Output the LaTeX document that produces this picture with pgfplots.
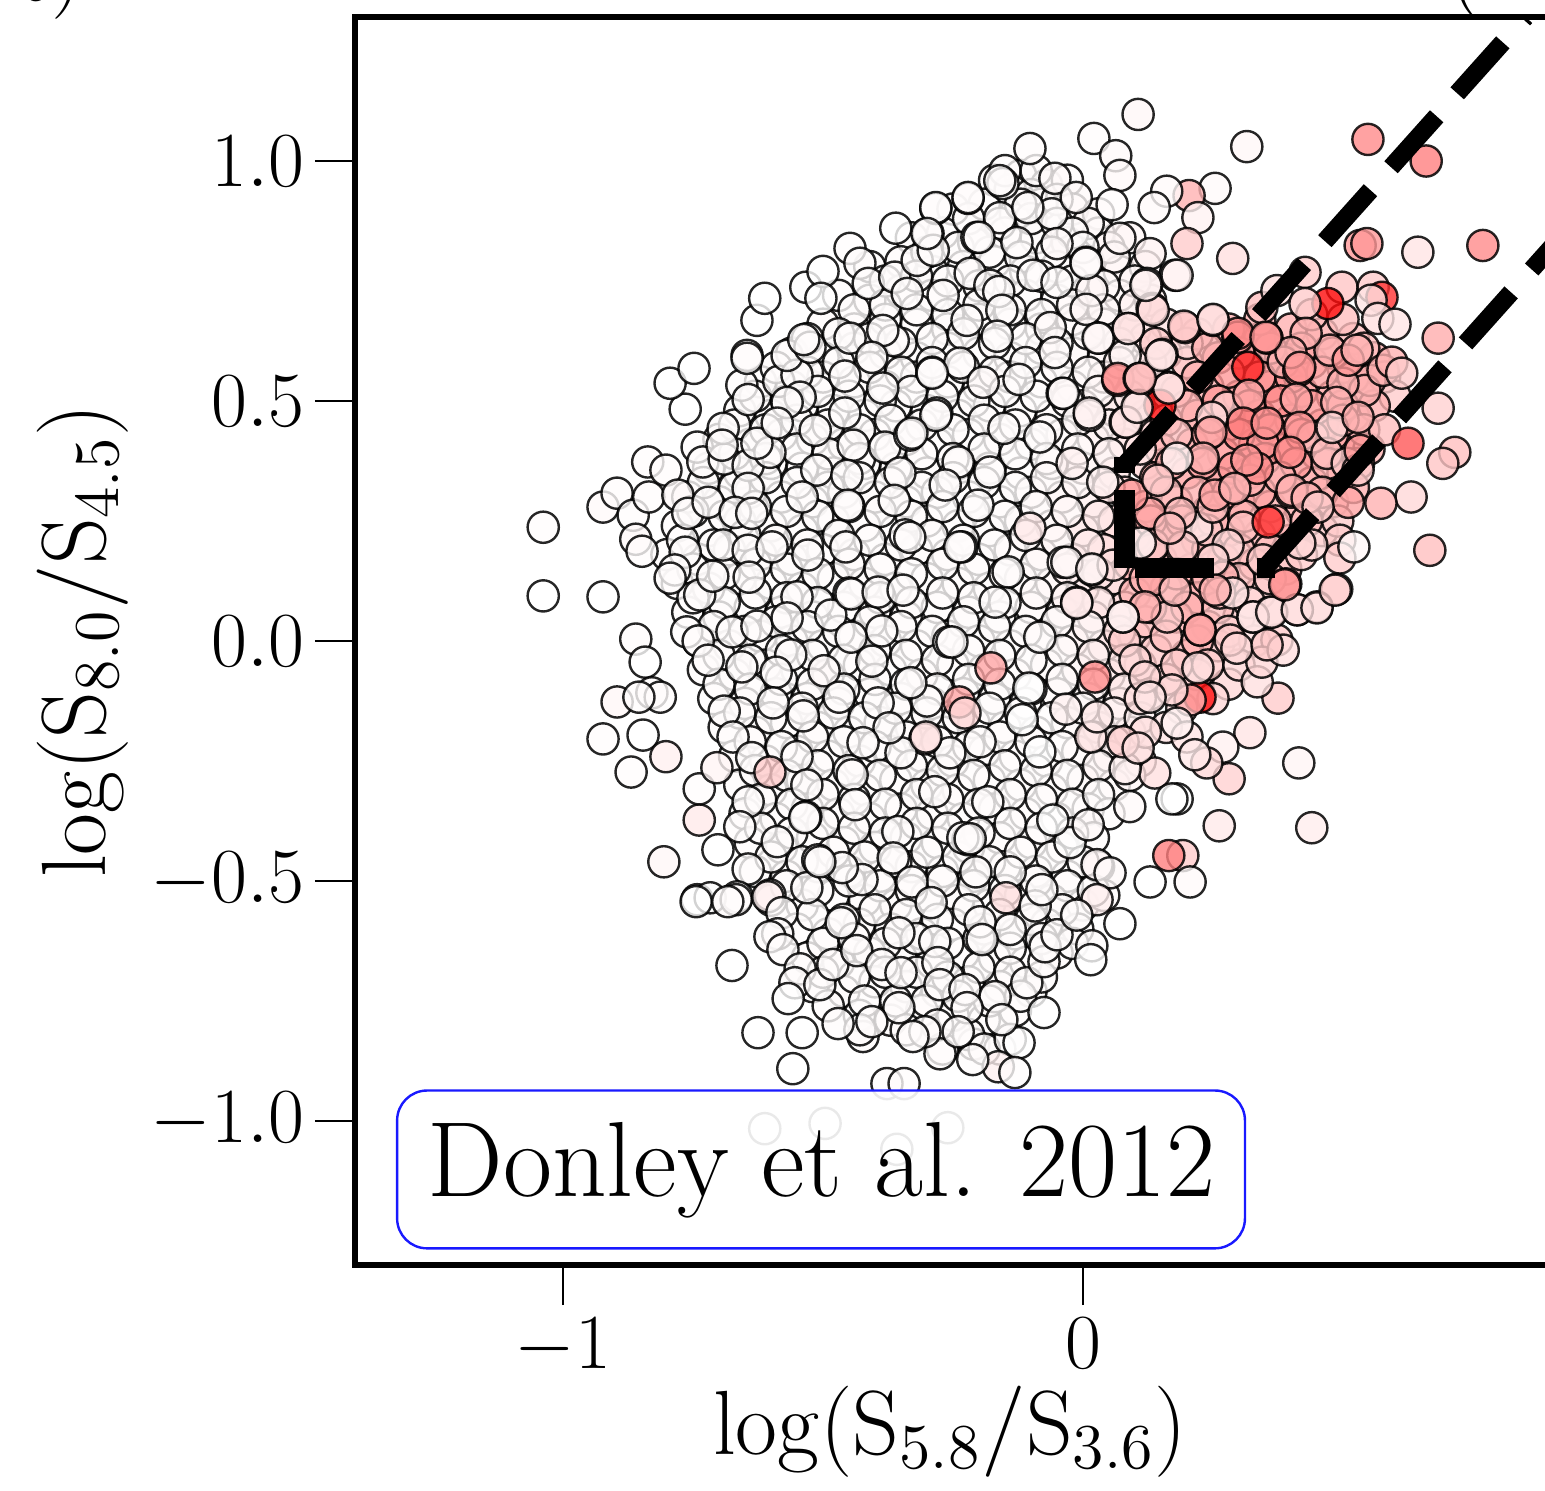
\RequirePackage{fix-cm}
\documentclass[border=0pt]{standalone}
\usepackage{pgfplots}
\pgfplotsset{compat=1.18}

\pgfplotsset{pts/.style={only marks,scatter,mark=*,mark size=3.9pt,point meta=explicit,
  scatter/use mapped color={draw=black,fill=mapped color},
  mark options={line width=0.6pt,fill opacity=0.8,draw opacity=0.85}}}
\newcommand{\lab}[1]{\fontsize{19.5}{24}\selectfont #1}
\newcommand{\axlab}[1]{\fontsize{22.8}{27}\selectfont #1}

\begin{document}
\begin{tikzpicture}[x=1pt,y=1pt]
\path[use as bounding box,clip] (-88.75,-56.5) rectangle (297.5,316.25);
\begin{axis}[
  scale only axis,width=312pt,height=312pt,
  xmin=-1.4,xmax=1.0,ymin=-1.3,ymax=1.3,
  clip mode=individual,
  axis on top,axis line style={line width=1.3pt},
  xtick={-1,0},ytick={-1,-0.5,0,0.5,1},
  yticklabels={$-1.0$,$-0.5$,$0.0$,$0.5$,$1.0$},
  xticklabels={$-1$,$0$},
  tick align=outside,tick pos=left,major tick length=10pt,
  every tick/.style={black,line width=0.5pt},
  tick label style={font=\lab},
  xticklabel style={yshift=0.3pt},
  yticklabel style={xshift=0.8pt},
  xlabel={$\log(\mathrm{S}_{5.8}/\mathrm{S}_{3.6})$},
  ylabel={$\log(\mathrm{S}_{8.0}/\mathrm{S}_{4.5})$},
  label style={font=\axlab},
  xlabel style={at={(axis description cs:0.4768,-0.152)},anchor=base},
  ylabel style={at={(axis description cs:-0.2003,0.5)},anchor=base},
  colormap={wr}{color(0)=(white) color(1)=(red)},
  point meta min=0,point meta max=1,
]
% under layer, mostly hidden
\addplot[pts] coordinates {
(-.17,.96)[.01] (-.12,.97)[.01] (-.07,.95)[.01] (-.03,.96)[.01]
(-.25,.90)[.01] (-.19,.91)[.01] (-.13,.89)[.01] (-.08,.91)[.01] (-.02,.90)[.01] (.03,.89)[.02]
(-.33,.84)[.01] (-.27,.85)[.01] (-.21,.83)[.01] (-.15,.85)[.01] (-.09,.84)[.01] (-.03,.83)[.01] (.03,.85)[.02] (.09,.84)[.03]
(-.41,.78)[.01] (-.35,.79)[.01] (-.29,.77)[.01] (-.23,.78)[.01] (-.17,.79)[.01] (-.11,.77)[.01] (-.05,.78)[.01] (.01,.79)[.02] (.07,.77)[.03] (.12,.78)[.04]
(-.47,.72)[.01] (-.41,.71)[.01] (-.35,.73)[.01] (-.29,.72)[.01] (-.23,.71)[.01] (-.17,.73)[.01] (-.11,.72)[.01] (-.05,.71)[.01] (.01,.73)[.02] (.07,.72)[.03] (.13,.71)[.05]
(-.50,.66)[.01] (-.44,.65)[.01] (-.38,.67)[.01] (-.32,.66)[.01] (-.26,.65)[.01] (-.20,.67)[.01] (-.14,.66)[.01] (-.08,.65)[.01] (-.02,.67)[.02] (.04,.66)[.03] (.10,.65)[.05] (.16,.66)[.1]
(-.56,.60)[.01] (-.50,.59)[.01] (-.44,.61)[.01] (-.38,.60)[.01] (-.32,.59)[.01] (-.26,.61)[.01] (-.20,.60)[.01] (-.14,.59)[.01] (-.08,.61)[.01] (-.02,.60)[.02] (.04,.59)[.03] (.10,.61)[.06] (.16,.60)[.08]
(-.62,.54)[.01] (-.56,.53)[.01] (-.50,.55)[.01] (-.44,.54)[.01] (-.38,.53)[.01] (-.32,.55)[.01] (-.26,.54)[.01] (-.20,.53)[.01] (-.14,.55)[.01] (-.08,.54)[.01] (-.02,.53)[.02] (.04,.55)[.05] (.10,.54)[.08] (.16,.53)[.1]
(-.66,.48)[.01] (-.60,.47)[.01] (-.54,.49)[.01] (-.48,.48)[.01] (-.42,.47)[.01] (-.36,.49)[.01] (-.30,.48)[.01] (-.24,.47)[.01] (-.18,.49)[.01] (-.12,.48)[.01] (-.06,.47)[.02] (.00,.49)[.03] (.06,.48)[.08] (.12,.47)[.12]
(-.70,.42)[.01] (-.64,.41)[.01] (-.58,.43)[.01] (-.52,.42)[.01] (-.46,.41)[.01] (-.40,.43)[.01] (-.34,.42)[.01] (-.28,.41)[.01] (-.22,.43)[.01] (-.16,.42)[.01] (-.10,.41)[.01] (-.04,.43)[.02] (.02,.42)[.05] (.08,.41)[.1] (.14,.43)[.15]
(-.72,.36)[.01] (-.66,.35)[.01] (-.60,.37)[.01] (-.54,.36)[.01] (-.48,.35)[.01] (-.42,.37)[.01] (-.36,.36)[.01] (-.30,.35)[.01] (-.24,.37)[.01] (-.18,.36)[.01] (-.12,.35)[.01] (-.06,.37)[.02] (.00,.36)[.04] (.06,.35)[.1] (.12,.37)[.15]
(-.76,.30)[.01] (-.70,.29)[.01] (-.64,.31)[.01] (-.58,.30)[.01] (-.52,.29)[.01] (-.46,.31)[.01] (-.40,.30)[.01] (-.34,.29)[.01] (-.28,.31)[.01] (-.22,.30)[.01] (-.16,.29)[.01] (-.10,.31)[.02] (-.04,.30)[.03] (.02,.29)[.06] (.08,.31)[.15]
(-.78,.24)[.01] (-.72,.23)[.01] (-.66,.25)[.01] (-.60,.24)[.01] (-.54,.23)[.01] (-.48,.25)[.01] (-.42,.24)[.01] (-.36,.23)[.01] (-.30,.25)[.01] (-.24,.24)[.01] (-.18,.23)[.01] (-.12,.25)[.02] (-.06,.24)[.03] (.00,.23)[.08] (.06,.25)[.15]
(-.80,.18)[.01] (-.74,.17)[.01] (-.68,.19)[.01] (-.62,.18)[.01] (-.56,.17)[.01] (-.50,.19)[.01] (-.44,.18)[.01] (-.38,.17)[.01] (-.32,.19)[.01] (-.26,.18)[.01] (-.20,.17)[.01] (-.14,.19)[.02] (-.08,.18)[.03] (-.02,.17)[.08] (.04,.19)[.15]
(-.78,.12)[.01] (-.72,.11)[.01] (-.66,.13)[.01] (-.60,.12)[.01] (-.54,.11)[.01] (-.48,.13)[.01] (-.42,.12)[.01] (-.36,.11)[.01] (-.30,.13)[.01] (-.24,.12)[.01] (-.18,.11)[.01] (-.12,.13)[.02] (-.06,.12)[.03] (.00,.11)[.08] (.06,.13)[.15]
(-.76,.06)[.01] (-.70,.05)[.01] (-.64,.07)[.01] (-.58,.06)[.01] (-.52,.05)[.01] (-.46,.07)[.01] (-.40,.06)[.01] (-.34,.05)[.01] (-.28,.07)[.01] (-.22,.06)[.01] (-.16,.05)[.01] (-.10,.07)[.02] (-.04,.06)[.03] (.02,.05)[.08] (.08,.07)[.15]
(-.74,.00)[.01] (-.68,-.01)[.01] (-.62,.01)[.01] (-.56,.00)[.01] (-.50,-.01)[.01] (-.44,.01)[.01] (-.38,.00)[.01] (-.32,-.01)[.01] (-.26,.01)[.01] (-.20,.00)[.01] (-.14,-.01)[.01] (-.08,.01)[.02] (-.02,.00)[.04] (.04,-.01)[.1] (.10,.01)[.15]
(-.73,-.06)[.01] (-.67,-.07)[.01] (-.61,-.05)[.01] (-.55,-.06)[.01] (-.49,-.07)[.01] (-.43,-.05)[.01] (-.37,-.06)[.01] (-.31,-.07)[.01] (-.25,-.05)[.01] (-.19,-.06)[.01] (-.13,-.07)[.01] (-.07,-.05)[.02] (-.01,-.06)[.03] (.05,-.07)[.08] (.11,-.05)[.12]
(-.71,-.12)[.01] (-.65,-.13)[.01] (-.59,-.11)[.01] (-.53,-.12)[.01] (-.47,-.13)[.01] (-.41,-.11)[.01] (-.35,-.12)[.01] (-.29,-.13)[.01] (-.23,-.11)[.01] (-.17,-.12)[.01] (-.11,-.13)[.01] (-.05,-.11)[.02] (.01,-.12)[.03] (.07,-.13)[.06] (.13,-.11)[.08]
(-.69,-.18)[.01] (-.63,-.19)[.01] (-.57,-.17)[.01] (-.51,-.18)[.01] (-.45,-.19)[.01] (-.39,-.17)[.01] (-.33,-.18)[.01] (-.27,-.19)[.01] (-.21,-.17)[.01] (-.15,-.18)[.01] (-.09,-.19)[.01] (-.03,-.17)[.02] (.03,-.18)[.03] (.09,-.19)[.08]
(-.67,-.24)[.01] (-.61,-.25)[.01] (-.55,-.23)[.01] (-.49,-.24)[.01] (-.43,-.25)[.01] (-.37,-.23)[.01] (-.31,-.24)[.01] (-.25,-.25)[.01] (-.19,-.23)[.01] (-.13,-.24)[.01] (-.07,-.25)[.01] (-.01,-.23)[.02] (.05,-.24)[.05] (.11,-.25)[.06]
(-.66,-.30)[.01] (-.60,-.31)[.01] (-.54,-.29)[.01] (-.48,-.30)[.01] (-.42,-.31)[.01] (-.36,-.29)[.01] (-.30,-.30)[.01] (-.24,-.31)[.01] (-.18,-.29)[.01] (-.12,-.30)[.01] (-.06,-.31)[.01] (.00,-.29)[.02] (.06,-.30)[.02]
(-.65,-.36)[.01] (-.59,-.37)[.01] (-.53,-.35)[.01] (-.47,-.36)[.01] (-.41,-.37)[.01] (-.35,-.35)[.01] (-.29,-.36)[.01] (-.23,-.37)[.01] (-.17,-.35)[.01] (-.11,-.36)[.01] (-.05,-.37)[.01] (.01,-.35)[.01] (.05,-.36)[.01]
(-.64,-.42)[.01] (-.58,-.43)[.01] (-.52,-.41)[.01] (-.46,-.42)[.01] (-.40,-.43)[.01] (-.34,-.41)[.01] (-.28,-.42)[.01] (-.22,-.43)[.01] (-.16,-.41)[.01] (-.10,-.42)[.01] (-.04,-.43)[.01] (.02,-.41)[.01]
(-.63,-.48)[.01] (-.57,-.49)[.01] (-.51,-.47)[.01] (-.45,-.48)[.01] (-.39,-.49)[.01] (-.33,-.47)[.01] (-.27,-.48)[.01] (-.21,-.49)[.01] (-.15,-.47)[.01] (-.09,-.48)[.01] (-.03,-.49)[.01] (.03,-.47)[.01]
(-.60,-.54)[.01] (-.54,-.55)[.01] (-.48,-.53)[.01] (-.42,-.54)[.01] (-.36,-.55)[.01] (-.30,-.53)[.01] (-.24,-.54)[.01] (-.18,-.55)[.01] (-.12,-.53)[.01] (-.06,-.54)[.01] (.00,-.55)[.01] (.04,-.53)[.01]
(-.55,-.60)[.01] (-.49,-.61)[.01] (-.43,-.59)[.01] (-.37,-.60)[.01] (-.31,-.61)[.01] (-.25,-.59)[.01] (-.19,-.60)[.01] (-.13,-.61)[.01] (-.07,-.59)[.01] (-.01,-.60)[.01]
(-.53,-.66)[.01] (-.47,-.67)[.01] (-.41,-.65)[.01] (-.35,-.66)[.01] (-.29,-.67)[.01] (-.23,-.65)[.01] (-.17,-.66)[.01] (-.11,-.67)[.01] (-.05,-.65)[.01]
(-.52,-.72)[.01] (-.46,-.73)[.01] (-.40,-.71)[.01] (-.34,-.72)[.01] (-.28,-.73)[.01] (-.22,-.71)[.01] (-.16,-.72)[.01] (-.10,-.73)[.01]
(-.43,-.78)[.01] (-.37,-.79)[.01] (-.31,-.77)[.01] (-.25,-.78)[.01] (-.19,-.79)[.01] (-.13,-.77)[.01]
(-.27,-.85)[.01] (-.21,-.84)[.01] (-.16,-.85)[.01]
% pink core
(.22,.64)[.2] (.28,.65)[.3] (.34,.63)[.35] (.40,.65)[.3] (.46,.64)[.3] (.52,.63)[.25]
(.20,.58)[.25] (.26,.59)[.35] (.32,.57)[.4] (.38,.59)[.4] (.44,.58)[.35] (.50,.57)[.35] (.56,.59)[.3]
(.18,.52)[.25] (.24,.53)[.3] (.30,.51)[.4] (.36,.53)[.45] (.42,.52)[.4] (.48,.51)[.35] (.54,.53)[.3]
(.16,.46)[.25] (.22,.47)[.35] (.28,.45)[.45] (.34,.47)[.45] (.40,.46)[.4] (.46,.45)[.35] (.52,.47)[.3]
(.15,.40)[.3] (.21,.41)[.35] (.27,.39)[.4] (.33,.41)[.45] (.39,.40)[.4] (.45,.39)[.35] (.51,.41)[.3] (.55,.40)[.3]
(.14,.34)[.3] (.20,.35)[.35] (.26,.33)[.4] (.32,.35)[.4] (.38,.34)[.35] (.44,.33)[.35] (.50,.35)[.3]
(.12,.28)[.3] (.18,.29)[.3] (.24,.27)[.35] (.30,.29)[.35] (.36,.28)[.3] (.42,.27)[.3] (.48,.29)[.25]
(.10,.22)[.35] (.16,.23)[.3] (.22,.21)[.3] (.28,.23)[.3] (.34,.22)[.3] (.40,.21)[.25] (.46,.23)[.2]
(.09,.16)[.3] (.15,.17)[.3] (.21,.15)[.3] (.27,.17)[.3] (.33,.16)[.25] (.39,.15)[.25]
(.10,.10)[.3] (.16,.11)[.3] (.22,.09)[.35] (.28,.11)[.3] (.34,.10)[.2]
(.12,.04)[.25] (.18,.05)[.3] (.24,.03)[.3] (.30,.05)[.2]
(.14,-.02)[.2] (.20,-.03)[.25] (.26,-.01)[.2]
(.16,-.08)[.2] (.22,-.07)[.2] (.28,-.09)[.15]
};
% middle layer, circles between the others
\addplot[pts] coordinates {
(-.14,.94)[.01] (-.10,.93)[.01] (-.05,.92)[.01] (-.15,.98)[.01] (-.09,.98)[.01]
(-.22,.88)[.01] (-.16,.87)[.01] (-.10,.88)[.01] (-.05,.87)[.01] (.01,.87)[.02] (.05,.82)[.03] (-.02,.85)[.01] (-.12,.91)[.01] (-.06,.89)[.01]
(-.30,.81)[.01] (-.24,.82)[.01] (-.18,.81)[.01] (-.12,.80)[.01] (-.06,.81)[.01] (.00,.82)[.01] (.06,.80)[.03] (.10,.75)[.03]
(-.38,.75)[.01] (-.32,.76)[.01] (-.26,.75)[.01] (-.20,.74)[.01] (-.14,.75)[.01] (-.08,.76)[.01] (-.02,.75)[.01] (.04,.74)[.02] (.10,.70)[.05]
(-.44,.69)[.01] (-.38,.70)[.01] (-.32,.69)[.01] (-.26,.68)[.01] (-.20,.70)[.01] (-.14,.69)[.01] (-.08,.68)[.01] (-.02,.70)[.02] (.04,.69)[.03] (.12,.63)[.1] (.20,.62)[.15]
(-.53,.63)[.01] (-.47,.64)[.01] (-.41,.63)[.01] (-.35,.62)[.01] (-.29,.63)[.01] (-.23,.64)[.01] (-.17,.62)[.01] (-.11,.63)[.01] (-.05,.62)[.01] (.01,.64)[.02] (.07,.62)[.05] (.13,.58)[.1]
(-.59,.57)[.01] (-.53,.56)[.01] (-.47,.58)[.01] (-.41,.57)[.01] (-.35,.56)[.01] (-.29,.58)[.01] (-.23,.57)[.01] (-.17,.56)[.01] (-.11,.58)[.01] (-.05,.57)[.02] (.01,.56)[.02] (.07,.58)[.05]
(-.63,.51)[.01] (-.57,.50)[.01] (-.51,.52)[.01] (-.45,.51)[.01] (-.39,.50)[.01] (-.33,.52)[.01] (-.27,.51)[.01] (-.21,.50)[.01] (-.15,.52)[.01] (-.09,.51)[.01] (-.03,.50)[.02] (.03,.52)[.03] (.09,.51)[.08]
(-.67,.45)[.01] (-.61,.44)[.01] (-.55,.46)[.01] (-.49,.45)[.01] (-.43,.44)[.01] (-.37,.46)[.01] (-.31,.45)[.01] (-.25,.44)[.01] (-.19,.46)[.01] (-.13,.45)[.01] (-.07,.44)[.01] (-.01,.46)[.02] (.05,.45)[.05]
(-.67,.39)[.01] (-.61,.38)[.01] (-.55,.40)[.01] (-.49,.39)[.01] (-.43,.38)[.01] (-.37,.40)[.01] (-.31,.39)[.01] (-.25,.38)[.01] (-.19,.40)[.01] (-.13,.39)[.01] (-.07,.38)[.01] (-.01,.40)[.02] (.05,.39)[.05] (.11,.40)[.1]
(-.73,.33)[.01] (-.67,.32)[.01] (-.61,.34)[.01] (-.55,.33)[.01] (-.49,.32)[.01] (-.43,.34)[.01] (-.37,.33)[.01] (-.31,.32)[.01] (-.25,.34)[.01] (-.19,.33)[.01] (-.13,.32)[.01] (-.07,.34)[.02] (-.01,.33)[.03] (.05,.32)[.1]
(-.75,.27)[.01] (-.69,.26)[.01] (-.63,.28)[.01] (-.57,.27)[.01] (-.51,.26)[.01] (-.45,.28)[.01] (-.39,.27)[.01] (-.33,.26)[.01] (-.27,.28)[.01] (-.21,.27)[.01] (-.15,.26)[.01] (-.09,.28)[.02] (-.03,.27)[.03] (.03,.26)[.08]
(-.77,.21)[.01] (-.71,.20)[.01] (-.65,.22)[.01] (-.59,.21)[.01] (-.53,.20)[.01] (-.47,.22)[.01] (-.41,.21)[.01] (-.35,.20)[.01] (-.29,.22)[.01] (-.23,.21)[.01] (-.17,.20)[.01] (-.11,.22)[.02] (-.05,.21)[.03] (.01,.20)[.08]
(-.75,.15)[.01] (-.69,.14)[.01] (-.63,.16)[.01] (-.57,.15)[.01] (-.51,.14)[.01] (-.45,.16)[.01] (-.39,.15)[.01] (-.33,.14)[.01] (-.27,.16)[.01] (-.21,.15)[.01] (-.15,.14)[.01] (-.09,.16)[.02] (-.03,.15)[.05] (.03,.14)[.1]
(-.75,.09)[.01] (-.69,.08)[.01] (-.63,.10)[.01] (-.57,.09)[.01] (-.51,.08)[.01] (-.45,.10)[.01] (-.39,.09)[.01] (-.33,.08)[.01] (-.27,.10)[.01] (-.21,.09)[.01] (-.15,.08)[.01] (-.09,.10)[.02] (-.03,.09)[.04] (.03,.08)[.1]
(-.71,.03)[.01] (-.65,.02)[.01] (-.59,.04)[.01] (-.53,.03)[.01] (-.47,.02)[.01] (-.41,.04)[.01] (-.35,.03)[.01] (-.29,.02)[.01] (-.23,.04)[.01] (-.17,.03)[.01] (-.11,.02)[.01] (-.05,.04)[.02] (.01,.03)[.04] (.07,.02)[.12]
(-.70,-.03)[.01] (-.64,-.04)[.01] (-.58,-.02)[.01] (-.52,-.03)[.01] (-.46,-.04)[.01] (-.40,-.02)[.01] (-.34,-.03)[.01] (-.28,-.04)[.01] (-.22,-.02)[.01] (-.16,-.03)[.01] (-.10,-.04)[.01] (-.04,-.02)[.02] (.02,-.03)[.06] (.08,-.04)[.1]
(-.70,-.09)[.01] (-.64,-.10)[.01] (-.58,-.08)[.01] (-.52,-.09)[.01] (-.46,-.10)[.01] (-.40,-.08)[.01] (-.34,-.09)[.01] (-.28,-.10)[.01] (-.22,-.08)[.01] (-.16,-.09)[.01] (-.10,-.10)[.01] (-.04,-.08)[.02] (.02,-.09)[.04] (.08,-.10)[.08]
(-.66,-.15)[.01] (-.60,-.16)[.01] (-.54,-.14)[.01] (-.48,-.15)[.01] (-.42,-.16)[.01] (-.36,-.14)[.01] (-.30,-.15)[.01] (-.24,-.16)[.01] (-.18,-.14)[.01] (-.12,-.15)[.01] (-.06,-.16)[.01] (.00,-.14)[.02] (.06,-.15)[.05] (.11,-.16)[.06]
(-.64,-.21)[.01] (-.58,-.22)[.01] (-.52,-.20)[.01] (-.46,-.21)[.01] (-.40,-.22)[.01] (-.34,-.20)[.01] (-.28,-.21)[.01] (-.22,-.22)[.01] (-.16,-.20)[.01] (-.10,-.21)[.01] (-.04,-.22)[.01] (.02,-.20)[.03] (.06,-.21)[.05]
(-.63,-.27)[.01] (-.57,-.28)[.01] (-.51,-.26)[.01] (-.45,-.27)[.01] (-.39,-.28)[.01] (-.33,-.26)[.01] (-.27,-.27)[.01] (-.21,-.28)[.01] (-.15,-.26)[.01] (-.09,-.27)[.01] (-.03,-.28)[.01] (.03,-.26)[.03] (.09,-.28)[.03]
(-.62,-.33)[.01] (-.56,-.34)[.01] (-.50,-.32)[.01] (-.44,-.33)[.01] (-.38,-.34)[.01] (-.32,-.32)[.01] (-.26,-.33)[.01] (-.20,-.34)[.01] (-.14,-.32)[.01] (-.08,-.33)[.01] (-.02,-.34)[.01] (.03,-.32)[.01]
(-.62,-.39)[.01] (-.56,-.40)[.01] (-.50,-.38)[.01] (-.44,-.39)[.01] (-.38,-.40)[.01] (-.32,-.38)[.01] (-.26,-.39)[.01] (-.20,-.40)[.01] (-.14,-.38)[.01] (-.08,-.39)[.01] (-.02,-.40)[.01]
(-.60,-.45)[.01] (-.54,-.46)[.01] (-.48,-.44)[.01] (-.42,-.45)[.01] (-.36,-.46)[.01] (-.30,-.44)[.01] (-.24,-.45)[.01] (-.18,-.46)[.01] (-.12,-.44)[.01] (-.06,-.45)[.01] (.00,-.46)[.01]
(-.57,-.51)[.01] (-.51,-.52)[.01] (-.45,-.50)[.01] (-.39,-.51)[.01] (-.33,-.52)[.01] (-.27,-.50)[.01] (-.21,-.51)[.01] (-.15,-.52)[.01] (-.09,-.50)[.01] (-.03,-.51)[.01] (.02,-.52)[.01]
(-.52,-.57)[.01] (-.46,-.58)[.01] (-.40,-.56)[.01] (-.34,-.57)[.01] (-.28,-.58)[.01] (-.22,-.56)[.01] (-.16,-.57)[.01] (-.10,-.58)[.01] (-.04,-.56)[.01]
(-.50,-.63)[.01] (-.44,-.62)[.01] (-.38,-.63)[.01] (-.32,-.62)[.01] (-.26,-.63)[.01] (-.20,-.62)[.01] (-.14,-.64)[.01] (-.08,-.62)[.01] (-.02,-.63)[.01]
(-.50,-.69)[.01] (-.44,-.70)[.01] (-.38,-.69)[.01] (-.32,-.69)[.01] (-.26,-.70)[.01] (-.20,-.68)[.01] (-.14,-.69)[.01] (-.08,-.70)[.01]
(-.49,-.76)[.01] (-.42,-.75)[.01] (-.36,-.75)[.01] (-.30,-.75)[.01] (-.24,-.74)[.01] (-.18,-.75)[.01] (-.12,-.74)[.01]
(-.34,-.81)[.01] (-.28,-.80)[.01] (-.22,-.82)[.01] (-.19,-.85)[.01] (-.14,-.83)[.01]
% pink, second pass
(.14,.62)[.2] (.24,.61)[.3] (.30,.60)[.35] (.36,.61)[.3] (.42,.61)[.35] (.48,.60)[.3] (.54,.61)[.25] (.34,.67)[.3] (.44,.68)[.25] (.50,.67)[.25]
(.22,.55)[.3] (.28,.56)[.4] (.34,.55)[.4] (.40,.55)[.4] (.46,.56)[.35] (.52,.55)[.3] (.58,.55)[.25] (.60,.51)[.2]
(.20,.49)[.3] (.26,.50)[.4] (.32,.49)[.4] (.38,.50)[.45] (.44,.49)[.4] (.50,.49)[.35] (.56,.49)[.3]
(.18,.43)[.25] (.24,.43)[.35] (.30,.43)[.45] (.36,.44)[.45] (.42,.43)[.4] (.48,.43)[.35] (.54,.44)[.3] (.58,.44)[.25]
(.17,.37)[.3] (.23,.37)[.35] (.29,.36)[.4] (.35,.38)[.45] (.41,.37)[.4] (.47,.37)[.3] (.53,.37)[.3]
(.16,.31)[.25] (.22,.31)[.3] (.28,.31)[.35] (.34,.31)[.35] (.40,.31)[.3] (.46,.31)[.3] (.52,.32)[.3]
(.13,.25)[.3] (.19,.25)[.3] (.25,.25)[.3] (.31,.26)[.3] (.37,.25)[.3] (.43,.25)[.25] (.49,.25)[.2]
(.13,.19)[.3] (.19,.19)[.25] (.24,.19)[.3] (.30,.19)[.25] (.36,.19)[.25] (.42,.18)[.2]
(.12,.13)[.3] (.18,.14)[.3] (.24,.13)[.3] (.30,.13)[.25] (.36,.13)[.2]
(.13,.07)[.3] (.20,.07)[.3] (.26,.07)[.25] (.32,.08)[.15]
(.08,.00)[.2] (.16,.01)[.25] (.22,.00)[.3] (.28,.02)[.2] (.33,.00)[.12]
(.10,-.04)[.15] (.18,-.05)[.2] (.24,-.05)[.2] (.30,-.05)[.15]
(.11,-.12)[.12] (.19,-.14)[.12] (.25,-.12)[.15] (.16,-.18)[.1] (.12,-.19)[.12] (.20,-.20)[.1]
};
% upper layer, read circle by circle
\addplot[pts] coordinates {
(-1.038,.237)[.01] (-1.038,.094)[0] (-.923,.092)[0] (-.923,.279)[.02] (-.896,.308)[.01] (-.865,.262)[.01] (-.835,.300)[.01]
(-.837,.373)[.01] (-.802,.356)[.01] (-.779,.304)[.02] (-.760,.266)[.01] (-.721,.289)[.01] (-.742,.404)[.01] (-.731,.373)[.01]
(-.690,.379)[.01] (-.692,.443)[.01] (-.694,.408)[.01] (-.644,.366)[.01] (-.602,.393)[.01] (-.627,.412)[.01] (-.644,.318)[.01]
(-.669,.268)[.01] (-.637,.266)[.01] (-.765,.483)[0] (-.794,.537)[0] (-.748,.568)[0] (-.656,.533)[.01] (-.644,.503)[.01]
(-.585,.541)[.01] (-.550,.554)[.01] (-.544,.508)[.01] (-.569,.497)[.01] (-.646,.595)[.01] (-.646,.589)[.01] (-.569,.595)[.01]
(-.525,.612)[.01] (-.537,.628)[.01] (-.627,.668)[0] (-.612,.714)[0] (-.533,.737)[0] (-.500,.770)[0] (-.504,.714)[0]
(-.448,.818)[.01] (-.429,.787)[.01] (-.413,.745)[.01] (-.360,.860)[0] (-.298,.849)[.01] (-.283,.901)[0] (-.221,.922)[.01]
(-.362,.758)[.01] (-.319,.793)[.01] (-.269,.720)[.01] (-.338,.724)[.01] (-.204,.841)[.01] (-.217,.766)[.01] (-.179,.741)[.01]
(-.160,.882)[.01] (-.288,.814)[.01] (-.154,.953)[.01] (-.223,.668)[.01] (-.365,.626)[.01] (-.385,.647)[.01] (-.448,.631)[.01]
(-.406,.591)[.01] (-.458,.552)[.01] (-.290,.560)[.01] (-.237,.579)[.01] (-.192,.539)[.02] (-.385,.527)[.01] (-.458,.475)[.01]
(-.442,.408)[.01] (-.381,.404)[.01] (-.515,.439)[.01] (-.588,.454)[.01] (-.333,.429)[.01] (-.281,.475)[.01] (-.240,.373)[.01]
(-.512,.356)[.01] (-.454,.345)[.01] (-.352,.350)[.01] (-.540,.300)[.01] (-.452,.283)[.01] (-.363,.293)[.01] (-.265,.325)[.01]
(-.202,.283)[.01] (-.179,.352)[.01] (-.342,.221)[.01] (-.333,.216)[.01] (.031,.631)[.02]
(.106,1.097)[.03] (.021,1.047)[.01] (.063,1.011)[.02] (.071,.970)[.02] (.056,.909)[.01] (-.102,1.026)[.01] (.315,1.030)[.03] (.254,.943)[.02]
(.204,.928)[.3] (.161,.937)[.02] (.221,.882)[.05] (.137,.903)[.02] (.129,.807)[.05] (.200,.828)[.2] (.288,.797)[.12] (.177,.762)[.05]
(.123,.745)[.05] (.071,.839)[.03] (.006,.789)[.03] (-.054,.964)[.02] (-.013,.924)[.02] (-.106,.903)[.01] (-.160,.959)[.01] (-.283,.903)[.01]
(-.221,.924)[.01] (-.127,.830)[.01] (-.050,.828)[.02] (-.200,.841)[.01] (-.300,.849)[.01] (-.162,.728)[.01] (-.096,.762)[.01] (-.050,.747)[.01]
(.017,.730)[.03] (.006,.691)[.03] (-.156,.689)[.01] (-.165,.635)[.01] (-.063,.653)[.02] (.029,.631)[.03] (-.054,.601)[.02]
(.344,.695)[.25] (.385,.581)[.3] (.415,.564)[.4] (.475,.606)[.3] (.552,.543)[.3] (.542,.522)[.3] (.500,.537)[.3] (.277,.487)[.2] (.248,.466)[.15]
(.500,.460)[.3] (.346,.412)[.4] (.442,.425)[.25] (.469,.391)[.25] (.508,.370)[.2] (.529,.356)[.2] (.379,.341)[.3] (.321,.335)[.3] (.402,.314)[.3]
(.431,.298)[.3] (.238,.231)[.2] (.219,.237)[.1] (.308,.237)[.25] (.250,.279)[.25] (.129,.266)[.35] (.135,.200)[.2] (.192,.196)[.2] (.269,.133)[.3]
(.162,.050)[.2] (.263,.100)[.25] (.288,.100)[.1] (.283,.002)[.2] (.373,.002)[.2]
(.087,.651)[.12] (.133,.693)[.2] (.196,.653)[.25] (.250,.668)[.18] (.152,.597)[.1] (.081,.595)[.04] (-.290,.558)[.01] (-.123,.545)[.01]
(-.040,.516)[.03] (.013,.470)[.05] (.067,.543)[.4] (.067,.547)[.4] (.108,.547)[.25] (.165,.527)[.12] (.108,.491)[.1] (.081,.456)[.1]
(-.283,.470)[.01] (-.152,.443)[.01] (-.083,.425)[.01] (-.329,.433)[.01] (.148,.491)[.9]
(.644,.810)[.1] (.769,.824)[.45] (.533,.824)[.4] (.546,.828)[.4] (.548,1.045)[.45] (.660,1.00)[.5]
(.427,.768)[.2] (.373,.730)[.12] (.498,.737)[.22] (.471,.703)[.95] (.427,.703)[.2] (.558,.737)[.2] (.575,.716)[.8] (.554,.710)[.1]
(.567,.672)[.12] (.600,.660)[.1] (.683,.631)[.32] (.354,.631)[.4] (.429,.641)[.3] (.400,.601)[.3] (.298,.633)[.4] (.298,.641)[.45] (.352,.633)[.4]
(.510,.585)[.4] (.417,.570)[.4] (.577,.564)[.3] (.594,.581)[.3] (.613,.558)[.2] (.527,.606)[.3] (.317,.570)[.85]
(.319,.512)[.35] (.410,.504)[.35] (.488,.497)[.3] (.308,.454)[.5] (.354,.454)[.42] (.417,.445)[.4] (.479,.445)[.15] (.529,.466)[.3]
(.246,.435)[.35] (.398,.393)[.45] (.335,.360)[.45] (.315,.377)[.4] (.231,.381)[.3] (.533,.397)[.4] (.181,.381)[.05]
(.683,.485)[.18] (.625,.412)[.65] (.715,.393)[.25] (.692,.370)[.22] (.631,.300)[.15] (.573,.287)[.3] (.510,.289)[.35]
(.667,.189)[.25] (.494,.210)[.2] (.494,.173)[.2] (.521,.196)[.03] (.488,.108)[.18] (.390,.119)[.4] (.450,.071)[.12] (.412,.065)[.12]
(.360,.060)[.12] (.327,.050)[.08] (.356,.248)[.8] (.440,.200)[.15] (.417,.204)[.15] (.452,.279)[.2] (.346,.169)[.2] (.279,.200)[.15]
(.187,.266)[.25] (.167,.235)[.25] (.254,.304)[.35] (.292,.318)[.3] (.094,.304)[.4] (.144,.335)[.2] (.110,.204)[.05] (.250,.169)[.15]
(.135,.127)[.35] (.177,.106)[.25] (.254,.106)[.3] (.225,.023)[.3] (.119,.071)[.3] (.077,.050)[.05] (-.012,.081)[.05] (.017,.148)[.02]
(-.038,.164)[.02] (.058,.158)[.12] (.038,.331)[.05] (-.021,.370)[.05] (-.038,.516)[.02] (.012,.475)[.05] (.083,.456)[.1] (.104,.487)[.1]
(.165,.527)[.12] (.110,.547)[.25] (.087,.651)[.1] (.135,.689)[.12] (.194,.656)[.2] (.250,.670)[.12] (.006,.787)[.01] (.121,.741)[.05]
(.150,.595)[.1] (.181,.762)[.05]
(.415,-.254)[.04] (.440,-.389)[.07] (.262,-.385)[.08] (.321,-.191)[.1] (.269,-.221)[.06] (.281,-.287)[.18] (.238,-.254)[.15] (.215,-.237)[.08]
(.375,-.119)[.2] (.335,-.085)[.12] (.344,-.044)[.15] (.296,-.015)[.15] (.385,-.019)[.12] (.354,-.008)[.2] (.327,.050)[.1] (.363,.060)[.12]
(.412,.065)[.12] (.450,.069)[.12] (.485,.106)[.18] (.388,.117)[.4] (.225,-.117)[.95] (.206,-.123)[.3] (.221,-.056)[.12] (.181,-.171)[.05]
(.171,-.102)[.15] (.119,-.075)[.15] (.129,-.117)[.1] (.023,-.075)[.45] (.225,.023)[.35] (.138,-.275)[.12] (.081,-.266)[.05] (.181,-.329)[0]
(.171,-.329)[0] (.090,-.345)[.02] (.192,-.447)[.2] (.165,-.447)[.5] (.129,-.502)[0] (.206,-.502)[.02] (.027,-.466)[.03] (.052,-.483)[.02]
(-.025,-.420)[0] (.010,-.383)[.02] (-.058,-.373)[0] (-.083,-.231)[0] (.015,-.200)[.1] (.077,-.210)[.18] (.106,-.223)[.12] (-.033,-.142)[.05]
(.027,-.158)[.08] (-.117,-.164)[0] (-.104,-.098)[0] (-.177,-.056)[.35] (-.238,-.127)[.35] (-.227,-.150)[.15] (-.300,-.125)[.01]
(-.258,-.002)[.01] (-.083,.008)[.01] (-.169,.081)[.01] (-.144,.144)[.01] (-.233,.196)[.01] (-.102,.235)[.08] (-.031,.164)[.03] (.017,.150)[.05]
(-.012,.079)[.08] (.077,.050)[.06] (-.256,-.233)[.01] (-.198,-.210)[.01] (-.304,-.204)[.1] (-.285,-.314)[.01] (-.183,-.335)[.01] (-.221,-.414)[.01]
(-.206,-.481)[.01] (-.140,-.481)[.01]
(-.860,.212)[.02] (-.848,.187)[.01] (-.860,.004)[.01] (-.842,-.044)[0] (-.896,-.127)[.03] (-.829,-.108)[.01] (-.813,-.117)[.01] (-.854,-.117)[.01]
(-.923,-.204)[.01] (-.846,-.196)[0] (-.869,-.273)[.01] (-.802,-.241)[.06] (-.806,-.460)[.03] (-.738,-.373)[.08] (-.738,-.308)[.01] (-.704,-.264)[.04]
(-.702,-.435)[0] (-.690,-.146)[.01] (-.673,-.200)[.01] (-.765,.185)[.01] (-.785,.148)[.01] (-.794,.131)[.01] (-.737,.096)[.01] (-.712,.135)[.01]
(-.692,.200)[.01] (-.644,.189)[.01] (-.598,.196)[.01] (-.762,.019)[.01] (-.740,.000)[.01] (-.721,-.040)[.01] (-.675,.019)[.01] (-.656,-.054)[.01]
(-.627,.031)[.01] (-.642,.133)[.01] (-.550,.092)[.01] (-.569,.048)[.01] (-.485,.054)[.01] (-.529,.179)[.01] (-.456,.196)[.01] (-.446,.098)[.01]
(-.394,.102)[.01] (-.346,.106)[.01] (-.387,.021)[.01] (-.446,.008)[.01] (-.562,-.029)[.01] (-.590,-.065)[.01] (-.498,-.062)[.02] (-.406,-.042)[.01]
(-.469,-.117)[.01] (-.538,-.156)[.01] (-.596,-.129)[.01] (-.394,-.129)[.01] (-.331,-.087)[.01] (-.252,-.002)[.01] (-.237,.196)[.01]
(-.637,-.243)[.01] (-.602,-.273)[.2] (-.550,-.241)[.01] (-.531,-.300)[.01] (-.533,-.366)[.01] (-.644,-.335)[.01] (-.444,-.279)[.01] (-.438,-.341)[.01]
(-.350,-.233)[.01] (-.373,-.181)[.01] (-.423,-.212)[.01] (-.302,-.200)[.1] (-.356,-.397)[.01] (-.365,-.452)[.01] (-.425,-.497)[.01] (-.463,-.472)[.01]
(-.510,-.456)[.01] (-.588,-.418)[.01] (-.644,-.475)[.01] (-.660,-.387)[.01] (-.742,-.539)[0] (-.665,-.533)[.01] (-.602,-.529)[.05] (-.717,-.535)[0]
(-.531,-.514)[.01] (-.329,-.502)[.01] (-.231,-.410)[.01]
(-.744,-.543)[0] (-.667,-.539)[.01] (-.683,-.543)[.01] (-.606,-.533)[.05] (-.579,-.566)[.01] (-.587,-.610)[.01] (-.602,-.616)[.01] (-.675,-.676)[0]
(-.577,-.643)[.01] (-.544,-.683)[.01] (-.554,-.712)[.01] (-.567,-.745)[0] (-.506,-.716)[.01] (-.481,-.674)[.01] (-.435,-.645)[.01] (-.387,-.674)[.01]
(-.350,-.691)[.01] (-.465,-.587)[.01] (-.354,-.608)[.01] (-.285,-.626)[.01] (-.279,-.670)[.01] (-.275,-.716)[.01] (-.227,-.726)[.01] (-.169,-.741)[.01]
(-.108,-.712)[.01] (-.075,-.668)[.01] (.017,-.635)[.01] (.015,-.664)[0] (.071,-.589)[0] (-.075,-.774)[0] (-.123,-.837)[0] (-.163,-.887)[.06] (-.131,-.899)[.01]
(-.212,-.872)[.01] (-.275,-.860)[.01] (-.156,-.789)[.01] (-.223,-.764)[.01] (-.240,-.814)[.01] (-.304,-.814)[.01] (-.327,-.824)[.01] (-.354,-.764)[.01]
(-.423,-.824)[.01] (-.429,-.810)[.01] (-.406,-.793)[.01] (-.471,-.797)[.01] (-.540,-.816)[0] (-.625,-.816)[0] (-.558,-.891)[0] (-.377,-.922)[.01] (-.344,-.922)[.01]
(-.612,-1.016)[0] (-.496,-1.005)[0] (-.358,-1.059)[0] (-.260,-1.014)[0]
(-.217,-.412)[.01] (-.148,-.535)[.12] (-.092,-.552)[.01] (-.079,-.518)[.01] (-.140,-.601)[.01] (-.073,-.637)[.01] (-.050,-.612)[.01] (-.198,-.585)[.01]
(-.194,-.622)[.01] (-.292,-.545)[.01] (-.506,-.460)[.01] (-.535,-.368)[.01] (.027,-.539)[.06] (-.012,-.571)[.01]
};
% Donley wedge
\addplot[black,line width=4.5pt,dash pattern=on 17.1pt off 7.7pt] coordinates {(.0835,.371) (.851,1.3)};
\addplot[black,line width=4.5pt,dash pattern=on 17.1pt off 7.7pt] coordinates {(.354,.158) (1.0,.94)};
\addplot[black,line width=5.1pt] coordinates {(.0798,.314) (.0798,.152)};
\addplot[black,line width=5.1pt] coordinates {(.0798,.383) (.0798,.350)};
\addplot[black,line width=5pt] coordinates {(.100,.152) (.252,.152)};
\addplot[black,line width=5pt] coordinates {(.335,.152) (.369,.152)};
% text box
\draw[blue!90!white,line width=0.6pt,fill=white,fill opacity=0.9,rounded corners=7.5pt]
  (axis cs:-1.319,-.9365) rectangle (axis cs:.3115,-1.2653);
\node[anchor=base,inner sep=0pt,font=\fontsize{26.7}{30}\selectfont] at (axis cs:-.502,-1.157) {Donley et al. 2012};
\end{axis}
% pieces of the neighbouring panels' labels
\node[anchor=base east,inner sep=0pt,font=\axlab] at (-67.5,317) {$)$};
\node[anchor=base east,inner sep=0pt,font=\axlab] at (-75,319.5) {$\mathrm{S}_{3.6}$};
\node[anchor=base east,inner sep=0pt,font=\axlab] at (281.75,317) {$($};
\end{tikzpicture}
\end{document}
